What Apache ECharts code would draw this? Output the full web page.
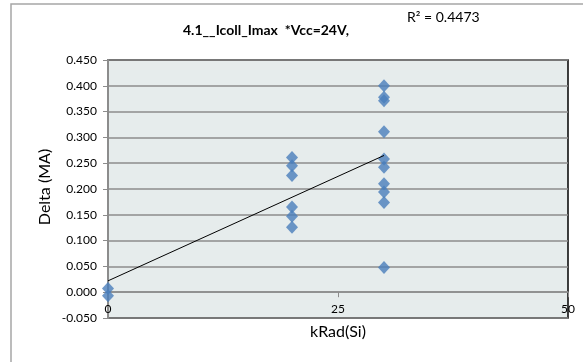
<!DOCTYPE html>
<html>
<head>
<meta charset="utf-8">
<script src="https://cdn.jsdelivr.net/npm/echarts@6/dist/echarts.min.js"></script>
<style>
html,body{margin:0;padding:0;background:#fff;}
#c{width:583px;height:362px;}
</style>
</head>
<body>
<div id="c"></div>
<script>
// Data
var kradX  = [0, 0, 20, 20, 20, 20, 20, 20, 30, 30, 30, 30, 30, 30, 30, 30, 30, 30];
var deltaY = [0.007, -0.007, 0.261, 0.245, 0.226, 0.165, 0.147, 0.126,
              0.400, 0.378, 0.371, 0.311, 0.258, 0.242, 0.210, 0.194, 0.174, 0.048];
var trendX = [0, 30];
var trendY = [0.022, 0.265];
var titleText = '4.1__Icoll_Imax  *Vcc=24V,';
var r2Text = 'R\u00B2 = 0.4473';
var xName = 'kRad(Si)';
var yName = 'Delta (MA)';

var FONT = 'Lato, "Open Sans", sans-serif';
var points = kradX.map(function (x, i) { return [x, deltaY[i]]; });
var trend = trendX.map(function (x, i) { return [x, trendY[i]]; });

var GRID = {left: 108, right: 15, top: 60, bottom: 44};
var chart = echarts.init(document.getElementById('c'), null, {renderer: 'canvas'});
function build(xOffset) {
  return {
    animation: false,
    backgroundColor: '#ffffff',
    textStyle: {fontFamily: FONT},
    grid: {
      left: GRID.left, right: GRID.right, top: GRID.top, bottom: GRID.bottom,
      show: true, backgroundColor: '#E6ECEC', borderColor: '#000', borderWidth: 1.5
    },
    graphic: [
      {type: 'rect', shape: {x: 11, y: 4, width: 600, height: 400},
       style: {fill: 'none', stroke: '#A6A6A6', lineWidth: 1.5}, z: -10, silent: true},
      {type: 'text', left: 183, top: 23,
       style: {text: titleText, font: 'bold 14px ' + FONT, fill: '#000'}},
      {type: 'text', left: 407, top: 10,
       style: {text: r2Text, font: '14px ' + FONT, fill: '#000'}},
      {type: 'text', x: 338, y: 332,
       style: {text: xName, font: '16px ' + FONT, fill: '#000', align: 'center', verticalAlign: 'middle'}},
      {type: 'text', x: 45, y: 187, rotation: Math.PI / 2,
       style: {text: yName, font: '16px ' + FONT, fill: '#000', align: 'center', verticalAlign: 'middle'}}
    ],
    xAxis: {
      type: 'value', min: 0, max: 50, interval: 25, offset: xOffset,
      axisLine: {show: true, onZero: false, lineStyle: {color: '#8C8C8C', width: 1.5}},
      axisTick: {show: true, length: 5, lineStyle: {color: '#8C8C8C'}},
      axisLabel: {margin: 11, color: '#000', fontSize: 12, fontFamily: FONT,
        showMinLabel: true, showMaxLabel: true},
      splitLine: {show: false}
    },
    yAxis: {
      type: 'value', min: -0.05, max: 0.45, interval: 0.05,
      axisLine: {show: true, onZero: false, lineStyle: {color: '#8C8C8C', width: 2}},
      axisTick: {show: true, length: 5, lineStyle: {color: '#8C8C8C'}},
      axisLabel: {margin: 11, color: '#000', fontSize: 12, fontFamily: FONT,
        formatter: function (v) { return v.toFixed(3); }},
      splitLine: {show: true, lineStyle: {color: '#8C8C8C', width: 1.5}}
    },
    series: [
      {type: 'scatter', data: points, symbol: 'diamond', symbolSize: [12, 13],
       itemStyle: {color: '#4A7EBB'}, z: 3},
      {type: 'line', data: trend, showSymbol: false, symbol: 'none',
       lineStyle: {color: '#000', width: 1}, z: 4}
    ]
  };
}
chart.setOption(build(0));
// place the x axis on the zero line of the y axis
var zeroPx = chart.convertToPixel({yAxisIndex: 0}, 0);
var bottomPx = 362 - GRID.bottom;
chart.setOption(build(zeroPx - bottomPx));
</script>
</body>
</html>
